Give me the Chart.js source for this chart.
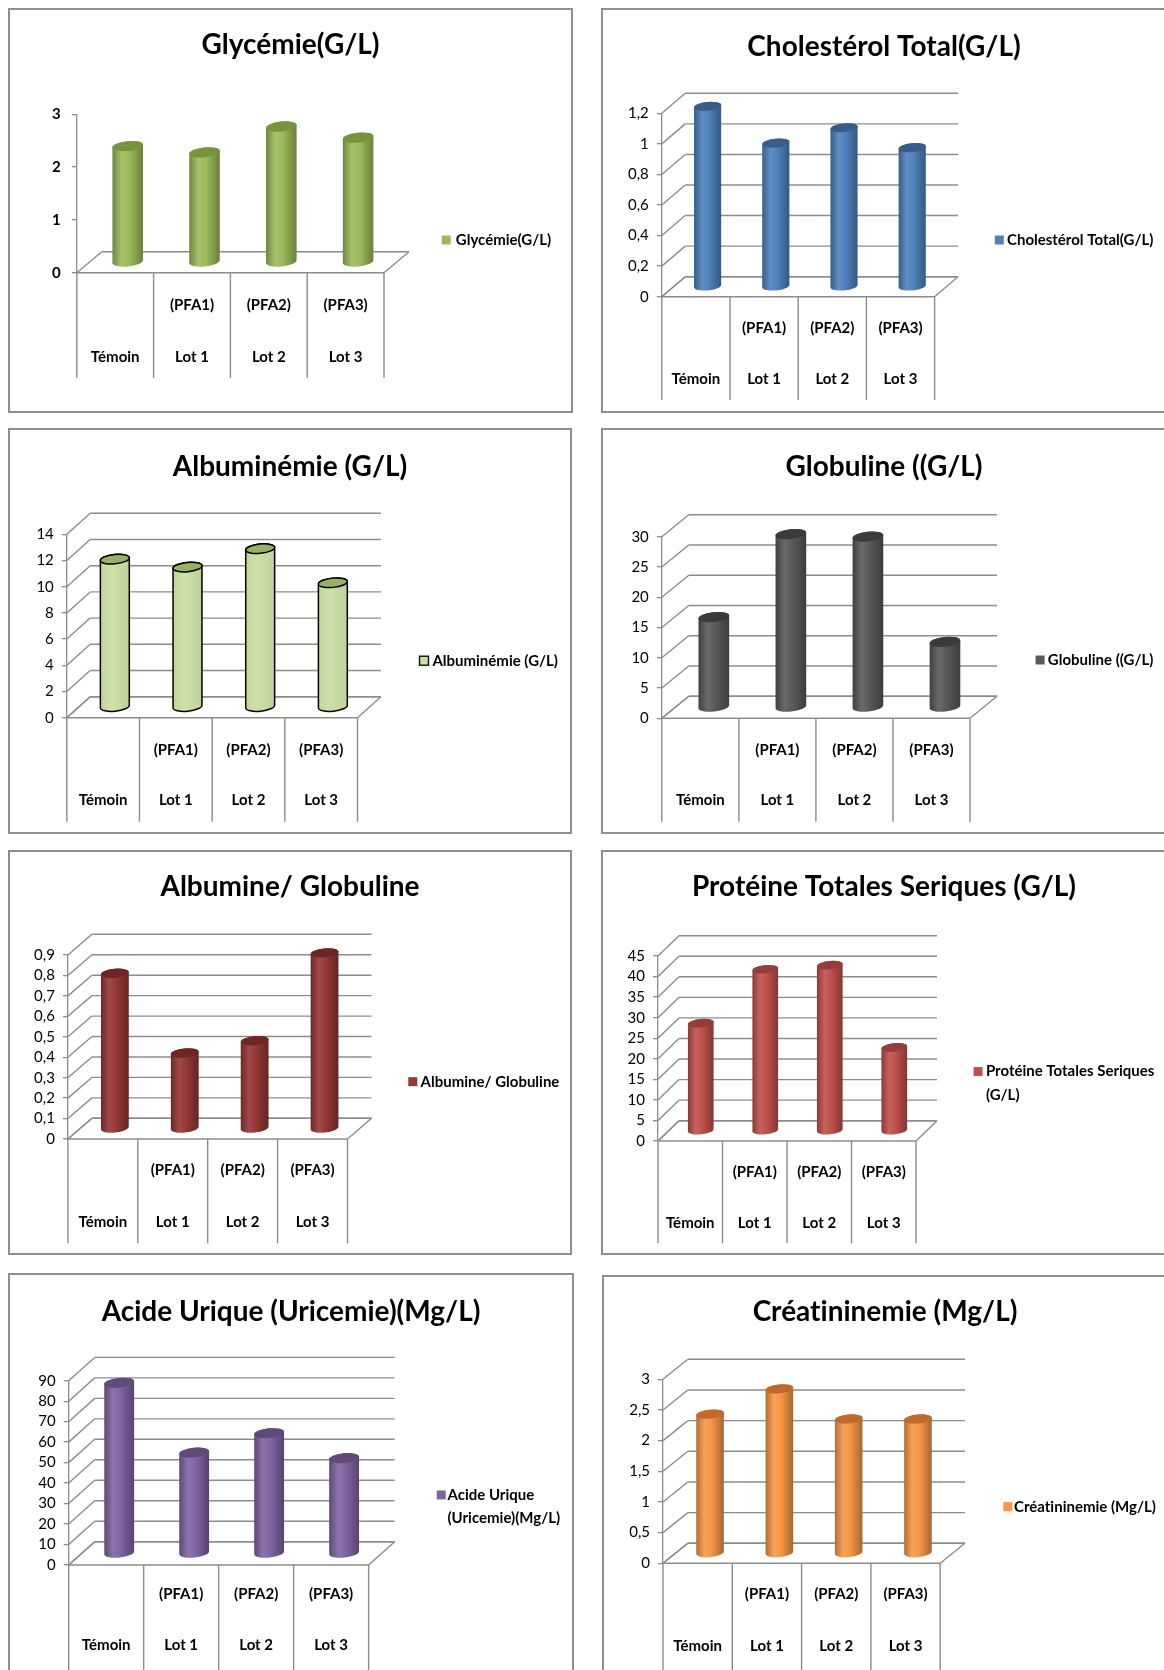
<!DOCTYPE html>
<html>
<head>
<meta charset="utf-8">
<script src="https://cdn.jsdelivr.net/npm/chart.js@4.4.1/dist/chart.umd.min.js"></script>
<style>
  html, body { margin: 0; padding: 0; background: #fff; }
  #page { position: relative; width: 1164px; height: 1670px; overflow: hidden; background: #fff; }
  .panel { position: absolute; box-sizing: border-box; border: 2px solid #8f8f8f; background: #fff; }
  #page canvas { position: absolute; }
</style>
</head>
<body>
<div id="page"></div>
<script>
// ---- data ----
const categories = [['', 'Témoin'], ['(PFA1)', 'Lot 1'], ['(PFA2)', 'Lot 2'], ['(PFA3)', 'Lot 3']];

const glycemie      = [2.2, 2.08, 2.57, 2.36];
const cholesterol   = [1.18, 0.94, 1.04, 0.91];
const albuminemie   = [11.3, 10.7, 12.1, 9.5];
const globuline     = [14.9, 28.6, 28.2, 10.8];
const albGlob       = [0.76, 0.37, 0.43, 0.86];
const proteines     = [26.2, 39.3, 40.3, 20.3];
const acideUrique   = [83.3, 49.2, 58.7, 46.5];
const creatininemie = [2.27, 2.68, 2.19, 2.19];

const seriesNames = [
  'Glycémie(G/L)',
  'Cholestérol Total(G/L)',
  'Albuminémie (G/L)',
  'Globuline ((G/L)',
  'Albumine/ Globuline',
  'Protéine Totales Seriques (G/L)',
  'Acide Urique (Uricemie)(Mg/L)',
  'Créatininemie (Mg/L)'
];

// value axis ranges: [max, step]
const axisMax  = [3, 1.2, 14, 30, 0.9, 45, 90, 3];
const axisStep = [1, 0.2, 2, 5, 0.1, 5, 10, 0.5];

// ---- styling & layout ----
const GRID = '#8c8c8c';
const FONT = 'Lato';

const panels = [
  { values: glycemie, color: '#9bbb59', top: '#77933c', walls: false, tickBold: true, tickPad: 11,
    box: { x: 8, y: 8, w: 565, h: 405 }, area: { l: 68.8, t: 106.3, r: 376, b: 264.7 }, dx: 25, dy: 21,
    tableBottom: 370, titleY: 37, rows: [297, 349], legend: { sx: 433.7, tx: 447.8, y: 232 } },
  { values: cholesterol, color: '#4f81bd', top: '#385d8a', walls: true, tickPad: 8,
    box: { x: 601, y: 8, w: 566, h: 405 }, area: { l: 60.8, t: 105.3, r: 333.6, b: 288.7 }, dx: 23.4, dy: 20,
    tableBottom: 392, titleY: 38.7, rows: [320, 371], legend: { sx: 393.8, tx: 406, y: 232 } },
  { values: albuminemie, color: '#c9dea2', top: '#98b162', walls: true, outline: true, flat: true, tickPad: 8,
    box: { x: 8, y: 428, w: 564, h: 406 }, area: { l: 58.8, t: 106.3, r: 349.5, b: 289.7 }, dx: 23.4, dy: 21,
    tableBottom: 393.7, titleY: 38.7, rows: [322, 372], legend: { sx: 411.5, tx: 424.4, y: 232.7 } },
  { values: globuline, color: '#595959', top: '#3b3b3b', walls: true, tickPad: 8,
    box: { x: 601, y: 428, w: 566, h: 406 }, area: { l: 60.8, t: 108.7, r: 369, b: 290.3 }, dx: 27, dy: 22,
    tableBottom: 393.7, titleY: 38.7, rows: [322, 372], legend: { sx: 434.6, tx: 446.8, y: 232 } },
  { values: albGlob, color: '#953735', top: '#6e2624', walls: true, tickPad: 8,
    box: { x: 8, y: 850, w: 564, h: 405 }, area: { l: 59.9, t: 105, r: 339.5, b: 289 }, dx: 24, dy: 20.7,
    tableBottom: 393.3, titleY: 36.7, rows: [320, 371.7], legend: { sx: 400.3, tx: 412.6, y: 231.7 } },
  { values: proteines, color: '#c0504d', top: '#963c3a', walls: true, tickPad: 8,
    box: { x: 601, y: 850, w: 566, h: 405 }, area: { l: 57, t: 106, r: 315, b: 291 }, dx: 21, dy: 20.3,
    tableBottom: 393.3, titleY: 36.7, rows: [321.7, 372.7], legend: { sx: 372.6, tx: 384.9, y: 233.3 } },
  { values: acideUrique, color: '#8064a2', top: '#5f4a7a', walls: true, tickPad: 8,
    box: { x: 8, y: 1273, w: 566, h: 405 }, area: { l: 60.7, t: 107.7, r: 360.6, b: 292 }, dx: 26, dy: 23.3,
    tableBottom: 403, titleY: 38.7, rows: [321.3, 372], legend: { sx: 428.7, tx: 439.5, y: 233.7 } },
  { values: creatininemie, color: '#f79646', top: '#c0692a', walls: true, tickPad: 8,
    box: { x: 602, y: 1275, w: 566, h: 405 }, area: { l: 61, t: 104.3, r: 338.2, b: 288.3 }, dx: 24.8, dy: 20,
    tableBottom: 403, titleY: 36.7, rows: [319.3, 371], legend: { sx: 401.3, tx: 412, y: 231.7 } }
];

// ---- colour helpers ----
function shade(hex, f) {
  const n = parseInt(hex.slice(1), 16);
  let r = (n >> 16) & 255, g = (n >> 8) & 255, b = n & 255;
  const t = f < 0 ? 0 : 255, p = Math.abs(f);
  r = Math.round((t - r) * p + r); g = Math.round((t - g) * p + g); b = Math.round((t - b) * p + b);
  return `rgb(${r},${g},${b})`;
}

function wrapWords(ctx, text, maxW) {
  const words = text.split(' ');
  const lines = [];
  let cur = '';
  for (const w of words) {
    const test = cur ? cur + ' ' + w : w;
    if (cur && ctx.measureText(test).width > maxW) { lines.push(cur); cur = w; }
    else cur = test;
  }
  if (cur) lines.push(cur);
  return lines;
}

// ---- 3D walls, floor, category table, cylinders and legend ----
const scene3d = {
  id: 'scene3d',
  beforeDraw(chart) {
    // plain glyphs, no "ti"/"fi" ligatures
    chart.ctx.textRendering = 'optimizeSpeed';
  },
  beforeDatasetsDraw(chart, args, o) {
    const { ctx, chartArea: { left, right, bottom }, scales: { x, y } } = chart;
    const dx = o.dx, dy = o.dy;
    ctx.save();
    ctx.strokeStyle = GRID;
    ctx.lineWidth = 1.4;
    const seg = (x1, y1, x2, y2) => { ctx.beginPath(); ctx.moveTo(x1, y1); ctx.lineTo(x2, y2); ctx.stroke(); };

    // side wall diagonals and back wall gridlines
    if (o.walls) {
      for (const t of y.ticks) {
        const py = y.getPixelForValue(t.value);
        seg(left, py, left + dx, py - dy);
        seg(left + dx, py - dy, right + dx, py - dy);
      }
    }
    // floor
    seg(left, bottom, right, bottom);
    seg(right, bottom, right + dx, bottom - dy);
    seg(left, bottom, left + dx, bottom - dy);
    seg(left + dx, bottom - dy, right + dx, bottom - dy);

    // category table under the floor
    const n = chart.data.labels.length;
    const half = (x.getPixelForValue(1) - x.getPixelForValue(0)) / 2;
    for (let i = 0; i <= n; i++) {
      const bx = i < n ? x.getPixelForValue(i) - half : x.getPixelForValue(n - 1) + half;
      seg(bx, bottom, bx, o.tableBottom);
    }
    ctx.restore();
  },
  afterDatasetsDraw(chart, args, o) {
    const { ctx } = chart;
    const meta = chart.getDatasetMeta(0);
    const rot = -0.1;
    ctx.save();
    for (const el of meta.data) {
      const p = el.getProps(['x', 'y', 'base', 'width'], true);
      const cx = p.x + o.dx / 2;
      const top = p.y - o.dy / 2;
      const bot = p.base - o.dy / 2;
      const rx = p.width / 2;
      const ry = rx * 0.32;

      const g = ctx.createLinearGradient(cx - rx, 0, cx + rx, 0);
      if (o.flat) {
        g.addColorStop(0, shade(o.color, -0.04));
        g.addColorStop(0.4, shade(o.color, 0.08));
        g.addColorStop(1, shade(o.color, -0.06));
      } else {
        g.addColorStop(0, shade(o.color, -0.28));
        g.addColorStop(0.3, shade(o.color, 0.1));
        g.addColorStop(0.55, o.color);
        g.addColorStop(1, shade(o.color, -0.32));
      }

      ctx.beginPath();
      ctx.ellipse(cx, top, rx, ry, rot, Math.PI, 0, false);
      ctx.ellipse(cx, bot, rx, ry, rot, 0, Math.PI, false);
      ctx.closePath();
      ctx.fillStyle = g;
      ctx.fill();
      if (o.outline) { ctx.strokeStyle = '#000'; ctx.lineWidth = 1.5; ctx.stroke(); }

      ctx.beginPath();
      ctx.ellipse(cx, top, rx, ry, rot, 0, Math.PI * 2);
      ctx.fillStyle = o.top;
      ctx.fill();
      if (o.outline) { ctx.strokeStyle = '#000'; ctx.lineWidth = 1.5; ctx.stroke(); }
    }
    ctx.restore();
  },
  afterDraw(chart, args, o) {
    const { ctx } = chart;
    const lg = o.legend;
    ctx.save();
    ctx.font = `bold 15px ${FONT}`;
    ctx.textBaseline = 'middle';
    ctx.textAlign = 'left';
    const lines = wrapWords(ctx, chart.data.datasets[0].label, chart.width - lg.tx - 8);
    const gap = 23.5;
    const y0 = lg.y - (lines.length - 1) * gap / 2;
    ctx.fillStyle = o.color;
    ctx.fillRect(lg.sx, y0 - 4.5, 9, 9);
    if (o.outline) { ctx.strokeStyle = '#000'; ctx.lineWidth = 1.3; ctx.strokeRect(lg.sx, y0 - 4.5, 9, 9); }
    ctx.fillStyle = '#000';
    lines.forEach((s, i) => ctx.fillText(s, lg.tx, y0 + i * gap));
    ctx.restore();
  }
};

function fmt(v) {
  return String(Number(v.toFixed(3))).replace('.', ',');
}

function makeChart(p, idx) {
  const page = document.getElementById('page');
  const frame = document.createElement('div');
  frame.className = 'panel';
  Object.assign(frame.style, { left: p.box.x + 'px', top: p.box.y + 'px', width: p.box.w + 'px', height: p.box.h + 'px' });
  page.appendChild(frame);

  const cv = document.createElement('canvas');
  cv.width = p.box.w; cv.height = p.box.h;
  Object.assign(cv.style, { left: p.box.x + 'px', top: p.box.y + 'px', width: p.box.w + 'px', height: p.box.h + 'px' });
  page.appendChild(cv);

  const a = p.area;
  const tSize = 28, tLH = 1.2;
  const tTop = p.titleY - tSize * tLH / 2;
  const rowGap = p.rows[1] - p.rows[0];

  new Chart(cv, {
    type: 'bar',
    data: {
      labels: categories,
      datasets: [{
        label: seriesNames[idx],
        data: p.values,
        backgroundColor: 'rgba(0,0,0,0)',
        borderWidth: 0,
        barPercentage: 0.4,
        categoryPercentage: 1
      }]
    },
    options: {
      responsive: false,
      animation: false,
      devicePixelRatio: 1,
      events: [],
      layout: { padding: 0 },
      plugins: {
        legend: { display: false },
        tooltip: { enabled: false },
        title: {
          display: true,
          text: seriesNames[idx],
          color: '#000',
          font: { family: FONT, weight: 'bold', size: tSize, lineHeight: tLH },
          padding: { top: tTop, bottom: a.t - tTop - tSize * tLH }
        },
        scene3d: {
          dx: p.dx, dy: p.dy, walls: p.walls, tableBottom: p.tableBottom,
          color: p.color, top: p.top, outline: !!p.outline, flat: !!p.flat, legend: p.legend
        }
      },
      scales: {
        x: {
          type: 'category',
          offset: true,
          grid: { display: false },
          border: { display: false },
          ticks: {
            autoSkip: false, maxRotation: 0, minRotation: 0, color: '#000',
            font: { family: FONT, weight: 'bold', size: 15, lineHeight: rowGap + 'px' },
            padding: p.rows[0] - a.b - rowGap / 2 - 8
          },
          afterFit(s) { s.height = p.box.h - a.b; }
        },
        y: {
          min: 0, max: axisMax[idx],
          ticks: {
            stepSize: axisStep[idx], autoSkip: false, color: '#000', padding: p.tickPad,
            font: { family: FONT, size: 15, weight: p.tickBold ? 'bold' : 'normal' },
            callback: v => fmt(v)
          },
          grid: { display: true, drawOnChartArea: false, drawTicks: true, tickLength: 5, color: GRID, lineWidth: 1.3 },
          border: { display: true, color: GRID, width: 1.3 },
          afterFit(s) { s.width = a.l; }
        },
        side: {
          axis: 'y', position: 'right', display: true,
          ticks: { display: false }, grid: { display: false }, border: { display: false },
          afterFit(s) { s.width = p.box.w - a.r; }
        }
      }
    },
    plugins: [scene3d]
  });
}

const fontsReady = document.fonts && document.fonts.load
  ? Promise.all([`bold 28px ${FONT}`, `15px ${FONT}`, `bold 15px ${FONT}`].map(f => document.fonts.load(f))).catch(() => null)
  : Promise.resolve();
fontsReady.then(() => panels.forEach(makeChart));
</script>
</body>
</html>
